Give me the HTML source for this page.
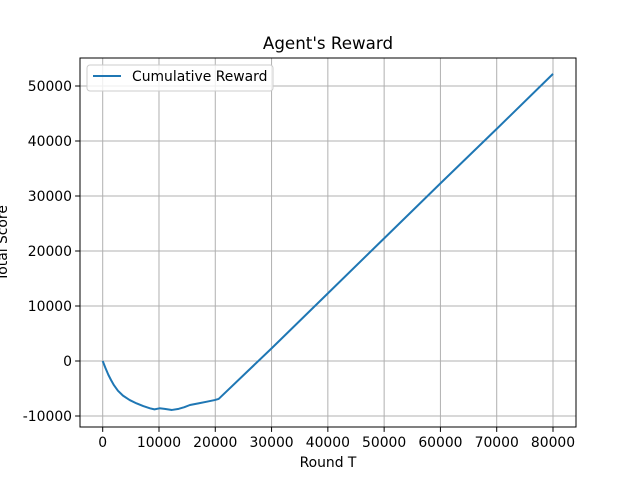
<!DOCTYPE html>
<html><head><meta charset="utf-8"><style>
body{margin:0;background:#fff}
svg text{font-family:"DejaVu Sans","Liberation Sans",sans-serif;fill:#000}
</style></head><body>
<svg id="c" width="640" height="480" xmlns="http://www.w3.org/2000/svg"></svg>
<script>
const xTicks=[0,10000,20000,30000,40000,50000,60000,70000,80000];
const yTicks=[-10000,0,10000,20000,30000,40000,50000];
const rounds=[0,500,1000,1500,2000,2700,3600,4800,6000,7200,8400,9200,10100,11000,12300,13500,14500,15500,17000,18500,19900,20600,30000,40000,50000,60000,70000,80000];
const reward=[0,-1300,-2500,-3500,-4400,-5400,-6300,-7100,-7700,-8200,-8600,-8800,-8600,-8700,-8900,-8700,-8400,-8000,-7700,-7400,-7100,-6900,2300,12300,22300,32300,42200,52200];
const svg=document.getElementById('c');const NS='http://www.w3.org/2000/svg';
const L=80,R=576,T=58,B=427;
const X=v=>102.7+v*(553-102.7)/80000;
const Y=v=>361-v*(361-86)/50000;
function mk(t,a,p){const e=document.createElementNS(NS,t);for(const k in a)e.setAttribute(k,a[k]);(p||svg).appendChild(e);return e;}
xTicks.forEach(v=>{const x=X(v);
const g=mk('line',{x1:x,x2:x,y1:T,y2:B,stroke:'#b0b0b0','stroke-width':1});

mk('line',{x1:x,x2:x,y1:B,y2:B+4.9,stroke:'#000','stroke-width':1});
const t=mk('text',{x:x,y:B+20,'text-anchor':'middle','font-size':13.9});t.textContent=v;
});
yTicks.forEach(v=>{const y=Y(v);
const g=mk('line',{x1:L,x2:R,y1:y,y2:y,stroke:'#b0b0b0','stroke-width':1});

mk('line',{x1:L-4.9,x2:L,y1:y,y2:y,stroke:'#000','stroke-width':1});
const t=mk('text',{x:L-8,y:y+5,'text-anchor':'end','font-size':13.9});t.textContent=v;
});
const line=mk('polyline',{points:rounds.map((r,i)=>X(r)+','+Y(reward[i])).join(' '),fill:'none',stroke:'#1f77b4','stroke-width':2,'stroke-linejoin':'round'});

const fr=mk('rect',{x:L,y:T,width:R-L,height:B-T,fill:'none',stroke:'#000','stroke-width':1});

let t=mk('text',{x:328,y:49,'text-anchor':'middle','font-size':16.7});t.textContent="Agent's Reward";

t=mk('text',{x:328,y:467,'text-anchor':'middle','font-size':13.9});t.textContent="Round T";

t=mk('text',{x:0,y:0,'text-anchor':'middle','font-size':13.9,transform:'translate(7,243) rotate(-90)'});t.textContent="Total Score";

const lg=mk('g',{});

mk('rect',{x:87,y:65,width:186,height:26,rx:3,fill:'#fff','fill-opacity':0.8,stroke:'#ccc','stroke-width':1},lg);
mk('line',{x1:93,x2:121,y1:76,y2:76,stroke:'#1f77b4','stroke-width':2},lg);
t=mk('text',{x:132,y:81,'font-size':13.9},lg);t.textContent="Cumulative Reward";

</script></body></html>
